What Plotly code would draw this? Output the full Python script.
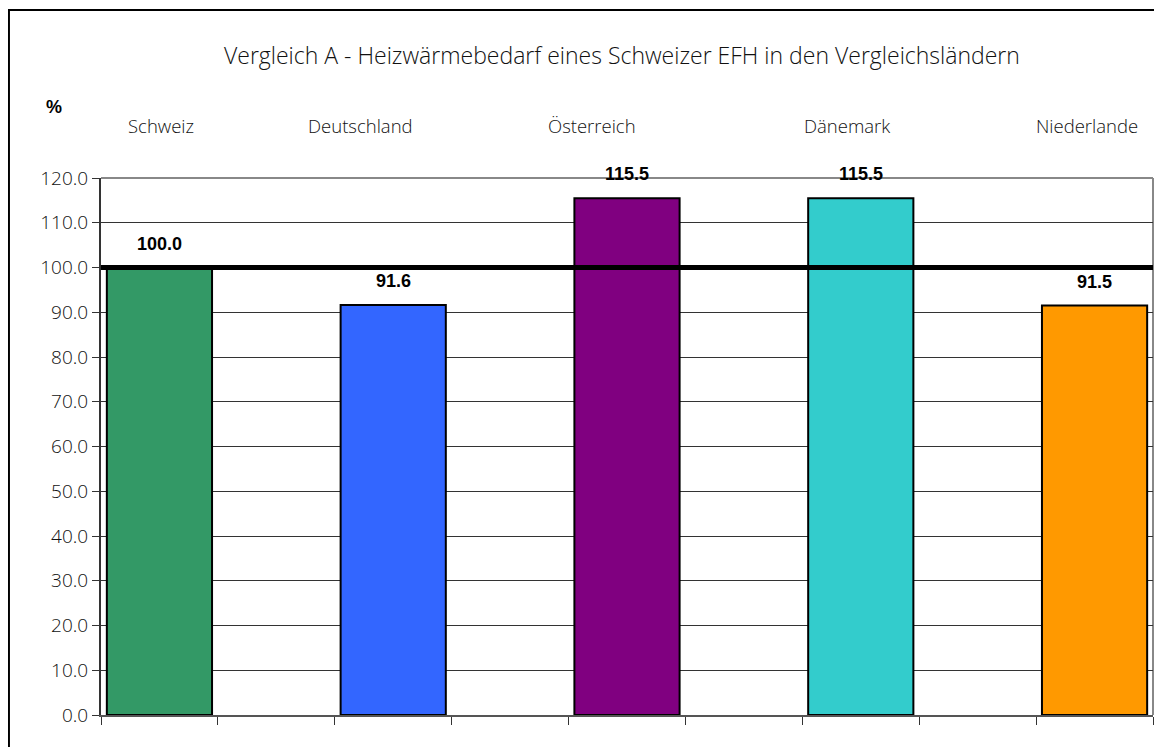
import plotly.graph_objects as go

countries = ["Schweiz", "Deutschland", "Österreich", "Dänemark", "Niederlande"]
values = [100.0, 91.6, 115.5, 115.5, 91.5]
colors = ["#339966", "#3366FF", "#800080", "#33CCCC", "#FF9900"]
reference_value = 100.0
y_ticks = [0, 10, 20, 30, 40, 50, 60, 70, 80, 90, 100, 110, 120]
title_text = "Vergleich A - Heizwärmebedarf eines Schweizer EFH in den Vergleichsländern"

# label offsets (px) of the country captions relative to their bar centre
caption_shift = [2, -33, -35, -14, -8]

# every country sits in every second slot of a 9-slot axis
xpos = [2 * i for i in range(len(countries))]

LIGHT = dict(family="Open Sans", weight=300, color="#111")

fig = go.Figure()
fig.add_trace(go.Bar(
    x=xpos, y=values,
    marker=dict(color=colors, line=dict(color="black", width=2)),
    width=0.9,
    hoverinfo="skip",
))

annotations = []
for xp, v in zip(xpos, values):
    annotations.append(dict(
        x=xp, y=v, xref="x", yref="y", text=f"<b>{v:.1f}</b>",
        showarrow=False, yanchor="bottom", yshift=12,
        font=dict(family="Liberation Sans, Arial", size=18, color="black"),
    ))
for xp, c, s in zip(xpos, countries, caption_shift):
    annotations.append(dict(
        x=xp, y=1.0, xref="x", yref="paper", yshift=53, xshift=s, text=c,
        showarrow=False, yanchor="middle", xanchor="center",
        font=dict(size=18.5, **LIGHT),
    ))
annotations.append(dict(
    x=-0.0447, y=1.0, xref="paper", yref="paper", yshift=71, text="<b>%</b>",
    showarrow=False, xanchor="center", yanchor="middle",
    font=dict(family="Liberation Sans, Arial", size=18, color="black"),
))

shapes = [
    dict(type="line", xref="paper", yref="paper", x0=1, x1=1, y0=0, y1=1,
         line=dict(color="#888", width=2), layer="below"),
    dict(type="line", xref="paper", yref="paper", x0=0, x1=1, y0=1, y1=1,
         line=dict(color="#888", width=2), layer="below"),
    dict(type="line", xref="paper", yref="y", x0=0, x1=1, y0=reference_value, y1=reference_value,
         line=dict(color="black", width=5), layer="above"),
    dict(type="rect", xref="paper", yref="paper", x0=-0.0875, x1=1.05, y0=-0.2, y1=1.3128,
         line=dict(color="black", width=2), layer="below"),
]

# the page body adds an 8px margin, so the figure is 8px smaller than the window
fig.update_layout(
    width=1154, height=739,
    margin=dict(l=93, r=9, t=170, b=32),
    paper_bgcolor="white", plot_bgcolor="white",
    showlegend=False,
    title=dict(text=title_text, x=0.532, xanchor="center", xref="container",
               y=0.935, yanchor="middle", yref="container",
               font=dict(size=23, **LIGHT)),
    annotations=annotations,
    shapes=shapes,
    bargap=0.1,
)
fig.update_xaxes(
    range=[-0.5, 8.5], tickmode="array", tickvals=[i - 0.5 for i in range(10)],
    ticktext=[""] * 10, ticks="outside", ticklen=8, tickcolor="#333", tickwidth=1,
    showgrid=False, showline=True, linecolor="#555", linewidth=2, mirror=False,
    zeroline=False,
)
fig.update_yaxes(
    range=[0, 120], tickmode="array", tickvals=y_ticks,
    ticktext=[f"{t:.1f}" for t in y_ticks],
    ticks="outside", ticklen=7, tickcolor="#333",
    showgrid=True, gridcolor="#333", gridwidth=1,
    showline=True, linecolor="#333", linewidth=2, mirror=False, zeroline=False,
    tickfont=dict(size=19, **LIGHT),
)

fig.write_html("out.html")
